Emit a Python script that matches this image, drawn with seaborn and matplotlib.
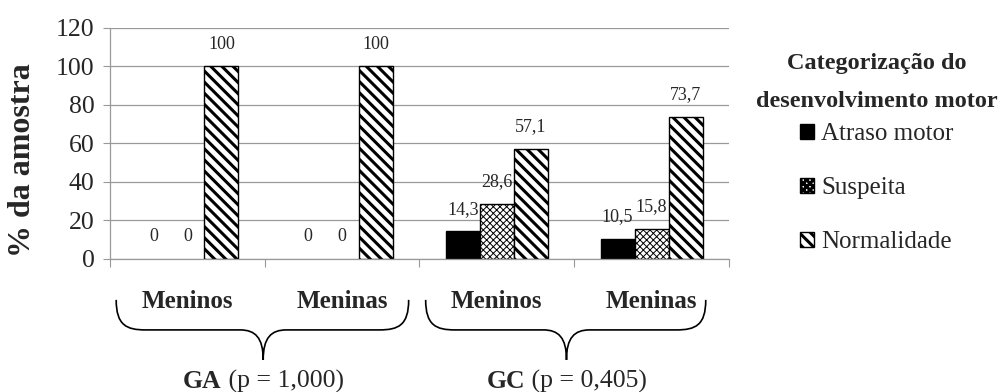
import matplotlib
matplotlib.use("Agg")
import matplotlib.pyplot as plt
from matplotlib.path import Path
from matplotlib.patches import PathPatch
import seaborn as sns
import pandas as pd

# ---- data ----
grupos = ["GA Meninos", "GA Meninas", "GC Meninos", "GC Meninas"]
rotulos_x = ["Meninos", "Meninas", "Meninos", "Meninas"]
categorias = ["Atraso motor", "Suspeita", "Normalidade"]
atraso = [0, 0, 14.3, 10.5]
suspeita = [0, 0, 28.6, 15.8]
normalidade = [100, 100, 57.1, 73.7]
grupo_rotulos = [("GA", " (p = 1,000)"), ("GC", " (p = 0,405)")]
titulo_legenda = "Categorização do\ndesenvolvimento motor"
rotulo_y = "% da amostra"

rows = []
for cat, vals in zip(categorias, [atraso, suspeita, normalidade]):
    for g, v in zip(grupos, vals):
        rows.append({"grupo": g, "categoria": cat, "valor": v})
df = pd.DataFrame(rows)

sns.set_style("white")
plt.rcParams["font.family"] = ["Liberation Serif", "DejaVu Serif"]
plt.rcParams["hatch.linewidth"] = 2.2

fig = plt.figure(figsize=(10.02, 3.92), dpi=100)
ax = fig.add_axes([0.1098, 0.3393, 0.6177, 0.5893])

sns.barplot(data=df, x="grupo", y="valor", hue="categoria", order=grupos,
            hue_order=categorias, palette=["black", "white", "white"],
            width=0.66, edgecolor="black", linewidth=1.0, ax=ax, errorbar=None)
if ax.legend_ is not None:
    ax.legend_.remove()

hatches = [None, "xxxxx", "\\\\\\"]
hlw = [None, 0.7, 2.2]
for cont, h, lw in zip(ax.containers, hatches, hlw):
    for p in cont.patches:
        if h:
            p.set_hatch(h)
            if hasattr(p, "set_hatch_linewidth"):
                p.set_hatch_linewidth(lw)
        if p.get_height() == 0:
            p.set_edgecolor("none")
            p.set_linewidth(0)

def fmt(v):
    return f"{v:g}".replace(".", ",")

for cont in ax.containers:
    for p in cont.patches:
        hgt = p.get_height()
        ax.annotate(fmt(hgt), (p.get_x() + p.get_width() / 2, hgt),
                    xytext=(0, 16), textcoords="offset points",
                    ha="center", va="center", fontsize=13)

gray = "#999999"
ax.set_ylim(0, 120)
ax.set_xlim(-0.5, 3.5)
ax.set_yticks(range(0, 121, 20))
ax.yaxis.grid(True, color=gray, linewidth=0.9)
ax.set_axisbelow(True)
ax.tick_params(axis="y", labelsize=18.5, length=5, color=gray, width=0.8,
               direction="out", left=True, pad=6)
ax.set_xticks([-0.5, 0.5, 1.5, 2.5, 3.5])
ax.set_xticklabels([])
ax.tick_params(axis="x", length=6, color=gray, width=0.8, direction="out", bottom=True)
ax.set_xlabel("")
ax.set_ylabel("")
for s in ["top", "right"]:
    ax.spines[s].set_visible(False)
for s in ["left", "bottom"]:
    ax.spines[s].set_color(gray)
    ax.spines[s].set_linewidth(0.9)

tr = ax.get_xaxis_transform()
for i, lab in enumerate(rotulos_x):
    ax.text(i, -0.186, lab, transform=tr, ha="center", va="center",
            fontsize=18, fontweight="bold")

def brace(x0, x1, xt, yt=-0.177, ym=-0.307, yb=-0.437, e=0.19, m=0.15):
    dy = ym - yb
    verts = [(x0, yt), (x0, ym + 0.02), (x0 + e * 0.35, ym), (x0 + e, ym),
             (xt - m, ym),
             (xt - m * 0.35, ym), (xt, ym - dy * 0.25), (xt, yb),
             (xt, ym - dy * 0.25), (xt + m * 0.35, ym), (xt + m, ym),
             (x1 - e, ym),
             (x1 - e * 0.35, ym), (x1, ym + 0.02), (x1, yt)]
    codes = [Path.MOVETO, Path.CURVE4, Path.CURVE4, Path.CURVE4,
             Path.LINETO,
             Path.CURVE4, Path.CURVE4, Path.CURVE4,
             Path.CURVE4, Path.CURVE4, Path.CURVE4,
             Path.LINETO,
             Path.CURVE4, Path.CURVE4, Path.CURVE4]
    pp = PathPatch(Path(verts, codes), transform=tr, fill=False,
                   edgecolor="black", linewidth=1.2, clip_on=False)
    ax.add_patch(pp)

brace(-0.46, 1.43, 0.49)
brace(1.54, 3.35, 2.45)

fig.text(23 / 1002, 1 - 160 / 392, rotulo_y, rotation=90, ha="center",
         va="center", fontsize=23, fontweight="bold")

# group labels (bold + regular), centered under brace tips
fig.canvas.draw()
renderer = fig.canvas.get_renderer()
for xt, (b, r) in zip([0.49, 2.45], grupo_rotulos):
    t1 = ax.text(xt, -0.532, b, transform=tr, ha="left", va="center",
                 fontsize=18.5, fontweight="bold")
    t2 = ax.text(xt, -0.532, r, transform=tr, ha="left", va="center",
                 fontsize=18.5)
    w1 = t1.get_window_extent(renderer).width
    w2 = t2.get_window_extent(renderer).width
    xpix = ax.transData.transform((xt, 0))[0]
    start = xpix - (w1 + w2) / 2
    inv = ax.transData.inverted()
    t1.set_x(inv.transform((start, 0))[0])
    t2.set_x(inv.transform((start + w1, 0))[0])

handles = [cont.patches[-1] for cont in ax.containers]
leg = fig.legend(handles, categorias, title=titulo_legenda,
                 loc="upper center", bbox_to_anchor=(877 / 1002, 1 - 40 / 392),
                 frameon=False, fontsize=18, handlelength=0.55, handleheight=0.55,
                 handletextpad=0.3, labelspacing=1.28, borderpad=0,
                 title_fontproperties={"weight": "bold", "size": 17.5})
leg.get_title().set_linespacing(2.1)
leg.get_title().set_ha("center")
leg._legend_box.sep = 8

fig.savefig("out.png", dpi=100)
